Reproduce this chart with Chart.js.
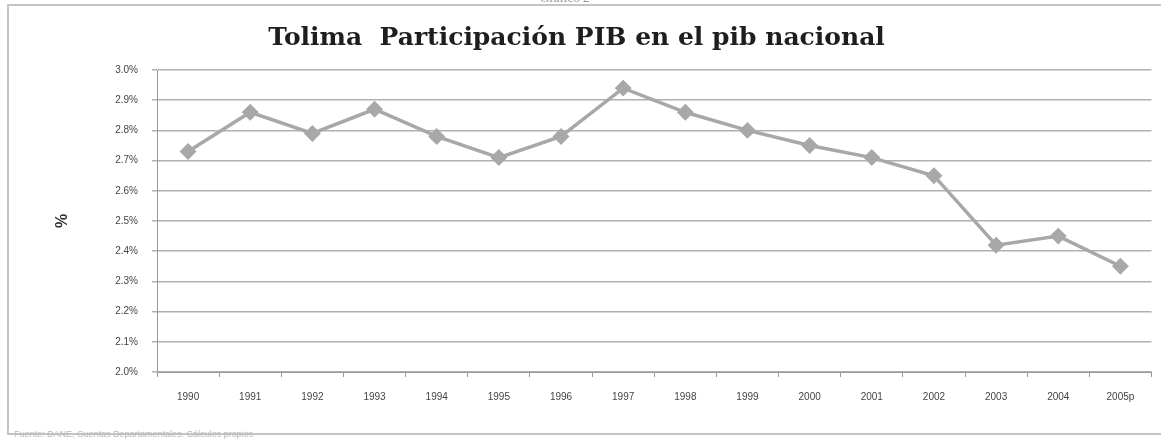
<!DOCTYPE html>
<html>
<head>
<meta charset="utf-8">
<script src="https://cdn.jsdelivr.net/npm/chart.js@4.4.1/dist/chart.umd.min.js"></script>
<style>
  html, body { margin: 0; padding: 0; background: #fff; width: 1161px; height: 440px; overflow: hidden; }
  #frame { position: absolute; left: 7px; top: 4px; width: 1170px; height: 431px; border: 2px solid #c4c4c4; box-sizing: border-box; }
  #wrap { position: absolute; left: 0; top: 0; width: 1161px; height: 440px; }
  #caption { position: absolute; left: 540px; top: -10px; font: 13px "Liberation Serif", serif; color: #999; }
  #source { position: absolute; left: 14px; top: 429px; font: 9px "Liberation Sans", sans-serif; color: #bbb; }
</style>
</head>
<body>
<div id="frame"></div>
<div id="caption">Gráfico 2</div>
<div id="source">Fuente: DANE, Cuentas Departamentales. Cálculos propios</div>
<div id="wrap"><canvas id="c" width="1161" height="440"></canvas></div>
<script>
const chartTitle = 'Tolima  Participación PIB en el pib nacional';
const yAxisTitle = '%';
const years = ['1990','1991','1992','1993','1994','1995','1996','1997','1998','1999','2000','2001','2002','2003','2004','2005p'];
const participacion = [2.73, 2.86, 2.79, 2.87, 2.78, 2.71, 2.78, 2.94, 2.86, 2.80, 2.75, 2.71, 2.65, 2.42, 2.45, 2.35];
const yTickLabels = ['2.0%','2.1%','2.2%','2.3%','2.4%','2.5%','2.6%','2.7%','2.8%','2.9%','3.0%'];
const yMin = 2.0, yMax = 3.0, yStep = 0.1;

new Chart(document.getElementById('c'), {
  type: 'line',
  data: {
    labels: years,
    datasets: [{
      data: participacion,
      borderColor: '#a8a8a8',
      backgroundColor: '#a8a8a8',
      borderWidth: 3.5,
      pointStyle: 'rectRot',
      pointRadius: 6,
      pointBackgroundColor: '#a8a8a8',
      pointBorderColor: '#a8a8a8',
      tension: 0
    }]
  },
  options: {
    responsive: false,
    animation: false,
    layout: { padding: { left: 0, right: 8, top: 0, bottom: 0 } },
    plugins: {
      legend: { display: false },
      tooltip: { enabled: false },
      title: {
        display: true,
        text: chartTitle,
        color: '#1e1e1e',
        font: { family: '"DejaVu Serif", serif', size: 25, weight: 'bold' },
        padding: { top: 23, bottom: 17 }
      }
    },
    scales: {
      x: {
        offset: true,
        grid: { display: true, offset: true, drawOnChartArea: false, tickLength: 5, color: '#999' },
        border: { color: '#999', width: 1 },
        ticks: { color: '#444', font: { family: '"Liberation Sans", sans-serif', size: 10 }, padding: 14, maxRotation: 0, autoSkip: false },
        afterFit: s => { s.height = 68; }
      },
      y: {
        min: yMin, max: yMax,
        ticks: {
          stepSize: yStep,
          color: '#444',
          font: { family: '"Liberation Sans", sans-serif', size: 10 },
          padding: 14,
          callback: (v, i) => yTickLabels[i]
        },
        grid: { color: '#b0b0b0', lineWidth: 1.5, tickLength: 5 },
        border: { color: '#999', width: 1 },
        title: { display: true, text: yAxisTitle, color: '#333', font: { family: '"Liberation Sans", sans-serif', size: 16, weight: 'bold' }, padding: { top: 53, bottom: 0 } },
        afterFit: s => { s.width = 157; }
      }
    }
  }
});
</script>
</body>
</html>
